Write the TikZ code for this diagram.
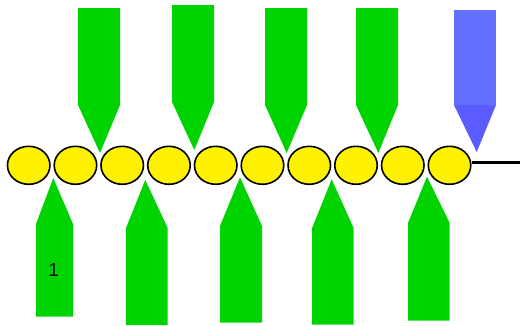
\documentclass[tikz,border=0pt]{standalone}
\usepackage{fontspec}
\setmainfont{Liberation Sans}
\usetikzlibrary{shapes.geometric}
\definecolor{pushgreen}{RGB}{0,212,0}
\definecolor{pushblue}{RGB}{98,112,255}
\definecolor{tipblue}{RGB}{90,92,255}

\begin{document}
\begin{tikzpicture}[
  x=1pt, y=-1pt,
  bead/.style={draw, ellipse, line width=1.6pt, fill=yellow, minimum width=42.5pt, minimum height=38pt, inner sep=0pt},
  pusher/.style={fill=pushgreen}
]
  \useasboundingbox (0,0) rectangle (520,325);
  % row of beads
  \foreach \i in {1,...,10}
    \node[bead] (b\i) at ({28.7+(\i-1)*46.76},165.3) {};
  \coordinate (tail) at (522,162.3);
  \draw[line width=3pt] (b10.east |- tail) -- (tail);
  % pushers from above
  \fill[pusher] (78,8) -- (120,8) -- (120,105) -- (100,153) -- (78,105) -- cycle;
  \fill[pusher] (172,5) -- (214,5) -- (214,102) -- (194.3,150) -- (172,102) -- cycle;
  \fill[pusher] (265,8) -- (307,8) -- (307,105) -- (286.7,153) -- (265,105) -- cycle;
  \fill[pusher] (356,8) -- (398,8) -- (398,105) -- (378.3,153) -- (356,105) -- cycle;
  \fill[pushblue] (454,10) rectangle (496,105);
  \fill[tipblue] (454,105) -- (496,105) -- (476.7,152) -- cycle;
  % pushers from below
  \fill[pusher] (36,316.7) -- (73,316.7) -- (73,224) -- (53.3,178) -- (36,224) -- cycle;
  \fill[pusher] (126,325) -- (167.7,325) -- (167.7,228) -- (145.3,180) -- (126,228) -- cycle;
  \fill[pusher] (220,322.7) -- (262,322.7) -- (262,226) -- (240,177.3) -- (220,226) -- cycle;
  \fill[pusher] (312,324.7) -- (353.7,324.7) -- (353.7,228.3) -- (331.7,179.3) -- (312,228.3) -- cycle;
  \fill[pusher] (408,320.7) -- (449.7,320.7) -- (449.7,223) -- (427,176.7) -- (408,223) -- cycle;
  \node[font=\fontsize{19}{21}\selectfont, inner sep=0pt] (num1) at (53.7,270.3) {1};
\end{tikzpicture}
\end{document}
